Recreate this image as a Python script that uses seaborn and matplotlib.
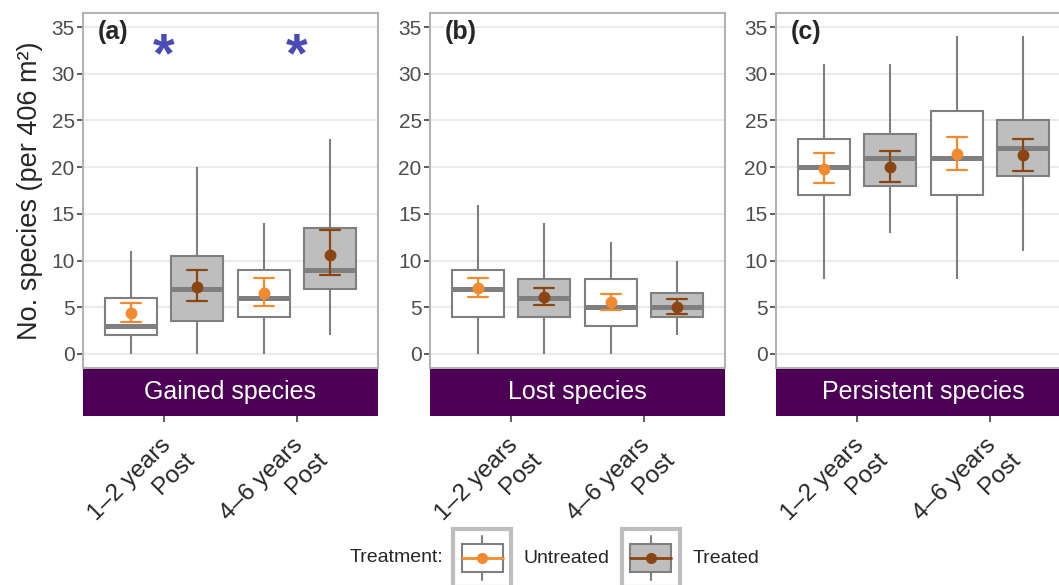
import numpy as np
import pandas as pd
import matplotlib
matplotlib.use("Agg")
import matplotlib.pyplot as plt
import seaborn as sns
from matplotlib.patches import Rectangle, Patch
from matplotlib.lines import Line2D
from matplotlib.legend_handler import HandlerBase

# ---------------- data ----------------
panels = ["Gained species", "Lost species", "Persistent species"]
panel_tags = ["(a)", "(b)", "(c)"]
periods = ["1–2 years \nPost", "4–6 years \nPost"]
treatments = ["Untreated", "Treated"]
# group order: (1–2 Untreated, 1–2 Treated, 4–6 Untreated, 4–6 Treated)
group_period = [periods[0], periods[0], periods[1], periods[1]]
group_treat = [treatments[0], treatments[1], treatments[0], treatments[1]]

gained_min = [0, 0, 0, 2]
gained_q1 = [2, 3.5, 4, 7]
gained_med = [3, 7, 6, 9]
gained_q3 = [6, 10.5, 9, 13.5]
gained_max = [11, 20, 14, 23]
gained_mean = [4.4, 7.15, 6.5, 10.6]
gained_lo = [3.45, 5.7, 5.15, 8.5]
gained_hi = [5.5, 8.95, 8.15, 13.25]

lost_min = [0, 0, 0, 2]
lost_q1 = [4, 4, 3, 4]
lost_med = [7, 6, 5, 5]
lost_q3 = [9, 8, 8, 6.5]
lost_max = [16, 14, 12, 10]
lost_mean = [7.1, 6.15, 5.55, 5.0]
lost_lo = [6.1, 5.25, 4.7, 4.25]
lost_hi = [8.15, 7.1, 6.45, 5.85]

persistent_min = [8, 13, 8, 11]
persistent_q1 = [17, 18, 17, 19]
persistent_med = [20, 21, 21, 22]
persistent_q3 = [23, 23.5, 26, 25]
persistent_max = [31, 31, 34, 34]
persistent_mean = [19.85, 20.05, 21.4, 21.25]
persistent_lo = [18.35, 18.45, 19.7, 19.6]
persistent_hi = [21.55, 21.75, 23.25, 23.05]

# significance flags per period (panel a only)
gained_sig = [True, True]
lost_sig = [False, False]
persistent_sig = [False, False]

yticks = [0, 5, 10, 15, 20, 25, 30, 35]

box_stats = {
    panels[0]: (gained_min, gained_q1, gained_med, gained_q3, gained_max),
    panels[1]: (lost_min, lost_q1, lost_med, lost_q3, lost_max),
    panels[2]: (persistent_min, persistent_q1, persistent_med, persistent_q3, persistent_max),
}
mean_stats = {
    panels[0]: (gained_lo, gained_mean, gained_hi),
    panels[1]: (lost_lo, lost_mean, lost_hi),
    panels[2]: (persistent_lo, persistent_mean, persistent_hi),
}
sig_flags = {panels[0]: gained_sig, panels[1]: lost_sig, panels[2]: persistent_sig}

# ---------------- style ----------------
sns.set_style("white")
plt.rcParams["font.family"] = ["Liberation Sans", "DejaVu Sans"]

W, H = 1059, 585
fig = plt.figure(figsize=(W / 100, H / 100), dpi=100)

box_fill = {"Untreated": "white", "Treated": "#BEBEBE"}
pt_col = {"Untreated": "#F28A30", "Treated": "#8B4513"}
edge_gray = "#7F7F7F"
strip_col = "#4B0055"
star_col = "#4B4BB5"

lefts = [83, 430, 776]
pw = 295
top, bottom = 13, 368
strip_bottom = 416

for k, panel in enumerate(panels):
    ax = fig.add_axes([lefts[k] / W, (H - bottom) / H, pw / W, (bottom - top) / H])
    mn, q1, md, q3, mx = box_stats[panel]
    rows = []
    for g in range(4):
        for v in (mn[g], q1[g], md[g], q3[g], mx[g]):
            rows.append((group_period[g], group_treat[g], v))
    dfb = pd.DataFrame(rows, columns=["period", "treatment", "value"])
    sns.boxplot(data=dfb, x="period", y="value", hue="treatment",
                order=periods, hue_order=treatments, palette=box_fill,
                saturation=1, width=1.0, gap=0.22, whis=(0, 100),
                linecolor=edge_gray, linewidth=1.5, fliersize=0,
                medianprops=dict(linewidth=3.6, color=edge_gray),
                capprops=dict(linewidth=0),
                legend=False, ax=ax)

    n_lines, n_coll = len(ax.lines), len(ax.collections)
    lo, me, hi = mean_stats[panel]
    rows = []
    for g in range(4):
        for v in (lo[g], me[g], hi[g]):
            rows.append((group_period[g], group_treat[g], v))
    dfm = pd.DataFrame(rows, columns=["period", "treatment", "value"])
    sns.pointplot(data=dfm, x="period", y="value", hue="treatment",
                  order=periods, hue_order=treatments, palette=pt_col,
                  estimator=np.median, errorbar=lambda v: (np.min(v), np.max(v)),
                  dodge=0.5, linestyle="none", marker="o", markersize=6.5,
                  capsize=0.15, err_kws=dict(linewidth=1.6),
                  legend=False, ax=ax)
    for art in ax.lines[n_lines:]:
        art.set_zorder(6)
    for art in ax.collections[n_coll:]:
        art.set_zorder(7)

    for i, flag in enumerate(sig_flags[panel]):
        if flag:
            ax.text(i, 31.8, "*", color=star_col, fontsize=40, ha="center",
                    va="center", fontweight="bold")

    ax.set_xlim(-0.61, 1.61)
    ax.set_ylim(-1.5, 36.5)
    ax.set_yticks(yticks)
    ax.yaxis.grid(True, color="#EBEBEB", linewidth=1.5)
    ax.xaxis.grid(False)
    ax.set_axisbelow(True)
    ax.tick_params(axis="x", length=0, labelbottom=False)
    ax.tick_params(axis="y", length=4, width=1.1, color="#333333",
                   labelsize=15, labelcolor="#4D4D4D", pad=2, left=True)
    ax.set_xlabel("")
    ax.set_ylabel("")
    for s in ax.spines.values():
        s.set_color("#B3B3B3")
        s.set_linewidth(1.5)
    ax.text(0.05, 0.9465, panel_tags[k], transform=ax.transAxes,
            fontsize=18, fontweight="bold", ha="left", va="center")
    if k == 0:
        ax.set_ylabel("No. species (per 406 m²)", fontsize=19.5, labelpad=6)

    sax = fig.add_axes([lefts[k] / W, (H - strip_bottom) / H, pw / W,
                        (strip_bottom - bottom - 1) / H])
    sax.set_facecolor(strip_col)
    for s in sax.spines.values():
        s.set_visible(False)
    sax.set_xlim(ax.get_xlim())
    sax.set_ylim(0, 1)
    sax.set_yticks([])
    sax.set_xticks(range(len(periods)))
    sax.set_xticklabels(periods, rotation=45, ha="right", va="top",
                        rotation_mode="anchor", fontsize=17.5, linespacing=1.3)
    sax.tick_params(axis="x", length=4.5, width=1.1, color="#333333",
                    pad=5, bottom=True)
    sax.text(0.5, 0.5, panel, transform=sax.transAxes, color="white",
             fontsize=18, ha="center", va="center")


class KeyHandler(HandlerBase):
    def __init__(self, fill, col):
        super().__init__()
        self.fill = fill
        self.col = col

    def create_artists(self, legend, orig_handle, xdescent, ydescent,
                       width, height, fontsize, trans):
        x0, y0 = -xdescent, -ydescent
        arts = [Rectangle((x0, y0), width, height, facecolor="white",
                          edgecolor="#BEBEBE", lw=3, transform=trans)]
        bw, bh = width * 0.7, height * 0.5
        bx, by = x0 + (width - bw) / 2, y0 + (height - bh) / 2
        cx, cy = x0 + width / 2, y0 + height / 2
        arts.append(Line2D([cx, cx], [y0 + 0.12 * height, by], color=edge_gray,
                           lw=1.5, transform=trans))
        arts.append(Line2D([cx, cx], [by + bh, y0 + 0.88 * height], color=edge_gray,
                           lw=1.5, transform=trans))
        arts.append(Rectangle((bx, by), bw, bh, facecolor=self.fill,
                              edgecolor=edge_gray, lw=1.5, transform=trans))
        arts.append(Line2D([bx, bx + bw], [cy, cy], color=self.col, lw=2,
                           transform=trans))
        arts.append(Line2D([cx], [cy], marker="o", color=self.col, ms=7,
                           transform=trans))
        return arts


handles = [Patch(), Patch()]
hmap = {handles[i]: KeyHandler(box_fill[t], pt_col[t]) for i, t in enumerate(treatments)}
fig.legend(handles, treatments, handler_map=hmap, loc="center left",
           bbox_to_anchor=(453 / W, 1 - 558 / H), ncol=2, frameon=False,
           fontsize=14, handlelength=3.0, handleheight=4.2,
           handletextpad=0.65, columnspacing=0.6, borderpad=0, borderaxespad=0)
fig.text(443 / W, 1 - 558 / H, "Treatment:", fontsize=14, ha="right", va="center")

fig.savefig("out.png", dpi=100)
